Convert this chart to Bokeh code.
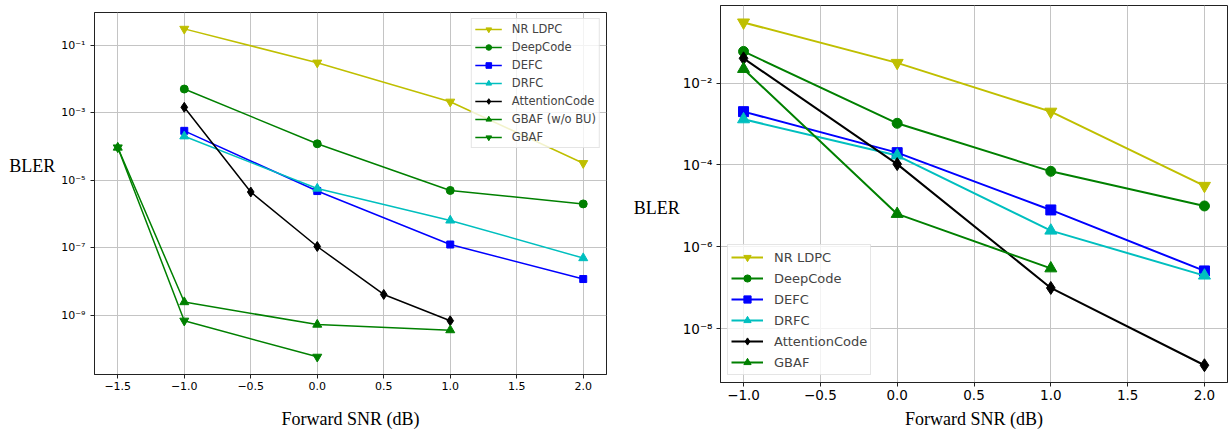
from bokeh.plotting import figure
from bokeh.models import Range1d, FixedTicker
from bokeh.embed import file_html
from bokeh.resources import INLINE

# ---------------- data: left panel ----------------
x_l = [-1.0, 0.0, 1.0, 2.0]
ldpc_l = [3.0e-1, 3.0e-2, 2.1e-3, 3.2e-5]
deepcode_l = [5.0e-3, 1.2e-4, 5.0e-6, 2.0e-6]
defc_l = [2.9e-4, 4.8e-6, 1.26e-7, 1.2e-8]
drfc_l = [2.0e-4, 5.7e-6, 6.5e-7, 5.0e-8]
attn_x_l = [-1.0, -0.5, 0.0, 0.5, 1.0]
attn_l = [1.44e-3, 4.5e-6, 1.1e-7, 4.2e-9, 7.0e-10]
gbaf_wobu_x = [-1.5, -1.0, 0.0, 1.0]
gbaf_wobu = [9.3e-5, 2.5e-9, 5.4e-10, 3.7e-10]
gbaf_x_l = [-1.5, -1.0, 0.0]
gbaf_l = [9.3e-5, 7.0e-10, 6.0e-11]

# ---------------- data: right panel ----------------
x_r = [-1.0, 0.0, 1.0, 2.0]
ldpc_r = [3.0e-1, 3.1e-2, 2.0e-3, 3.1e-5]
deepcode_r = [5.9e-2, 1.04e-3, 7.0e-5, 1.0e-5]
defc_r = [2.0e-3, 2.0e-4, 8.0e-6, 2.6e-7]
drfc_r = [1.3e-3, 1.7e-4, 2.5e-6, 2.0e-7]
attn_r = [4.0e-2, 1.05e-4, 1.0e-7, 1.3e-9]
gbaf_x_r = [-1.0, 0.0, 1.0]
gbaf_r = [2.2e-2, 6.4e-6, 3.0e-7]

# tick labels
xticks_l = [-1.5, -1.0, -0.5, 0.0, 0.5, 1.0, 1.5, 2.0]
xticks_r = [-1.0, -0.5, 0.0, 0.5, 1.0, 1.5, 2.0]
xtick_labels = {-1.5: "\u22121.5", -1.0: "\u22121.0", -0.5: "\u22120.5", 0.0: "0.0",
                0.5: "0.5", 1.0: "1.0", 1.5: "1.5", 2.0: "2.0"}
yexp_l = [-1, -3, -5, -7, -9]
yexp_r = [-2, -4, -6, -8]
SUP = {"-": "\u207b", "0": "\u2070", "1": "\u00b9", "2": "\u00b2", "3": "\u00b3", "4": "\u2074",
       "5": "\u2075", "6": "\u2076", "7": "\u2077", "8": "\u2078", "9": "\u2079"}


def sup_label(e):
    return "10" + "".join(SUP[c] for c in str(e))


Y, G, B, C, K = "#bfbf00", "#008000", "#0000ff", "#00bfbf", "#000000"


def style(p, xticks, yexps, tick_font, x_std, x_lab_std, y_std, y_lab_std, y_label, y_line_height):
    p.xaxis.ticker = FixedTicker(ticks=xticks)
    p.xaxis.major_label_overrides = {t: xtick_labels[t] for t in xticks}
    yt = [10.0 ** e for e in yexps]
    p.yaxis.ticker = FixedTicker(ticks=yt)
    p.yaxis.major_label_overrides = {10.0 ** e: sup_label(e) for e in yexps}
    for ax in (p.xaxis, p.yaxis):
        ax.major_label_text_font = "DejaVu Sans"
        ax.major_label_text_font_size = tick_font
        ax.major_label_text_color = "black"
        ax.major_tick_in = 0
        ax.major_tick_out = 4
        ax.minor_tick_line_color = None
        ax.axis_line_color = "#222222"
        ax.major_tick_line_color = "#222222"
        ax.axis_label_text_font = "Liberation Serif"
        ax.axis_label_text_font_style = "normal"
        ax.axis_label_text_font_size = "18px"
        ax.axis_label_text_color = "black"
    p.xaxis.major_label_standoff = x_std
    p.xaxis.axis_label = "Forward SNR (dB)"
    p.xaxis.axis_label_standoff = x_lab_std
    p.yaxis.major_label_standoff = y_std
    # the empty line only shifts "BLER" off the frame's vertical centre, as in the original
    p.yaxis.axis_label = y_label
    p.yaxis.axis_label_orientation = "horizontal"
    p.yaxis.axis_label_standoff = y_lab_std
    p.yaxis.axis_label_text_line_height = y_line_height
    p.grid.grid_line_color = "#c4c4c4"
    p.grid.grid_line_width = 1
    p.outline_line_color = "#222222"
    p.outline_line_width = 1
    p.background_fill_color = "white"
    p.border_fill_color = "white"


def series(p, x, y, color, marker, label, lw, ms):
    p.line(x, y, line_color=color, line_width=lw, legend_label=label)
    p.scatter(x, y, marker=marker, size=ms, fill_color=color, line_color=color, legend_label=label)


def style_legend(lg, loc, font, gw, gh, spacing, pad, margin, standoff):
    lg.location = loc
    lg.label_text_font = "DejaVu Sans"
    lg.label_text_font_size = font
    lg.glyph_width = gw
    lg.glyph_height = gh
    lg.label_height = gh
    lg.spacing = spacing
    lg.padding = pad
    lg.margin = margin
    lg.label_standoff = standoff
    lg.border_line_color = "#cccccc"
    lg.background_fill_alpha = 0.8


# ---------------- left figure ----------------
p1 = figure(width=620, height=431, output_backend="svg", toolbar_location=None,
            y_axis_type="log",
            x_range=Range1d(-1.675, 2.175),
            y_range=Range1d(10 ** -10.744, 10 ** -0.038),
            min_border_left=94, min_border_right=14, min_border_top=12, min_border_bottom=55)
lw1, ms1 = 1.5, 8
series(p1, x_l, ldpc_l, Y, "inverted_triangle", "NR LDPC", lw1, ms1 + 1)
series(p1, x_l, deepcode_l, G, "circle", "DeepCode", lw1, ms1)
series(p1, x_l, defc_l, B, "square", "DEFC", lw1, ms1 - 1)
series(p1, x_l, drfc_l, C, "triangle", "DRFC", lw1, ms1 + 1)
series(p1, attn_x_l, attn_l, K, "diamond", "AttentionCode", lw1, ms1 + 2)
series(p1, gbaf_wobu_x, gbaf_wobu, G, "triangle", "GBAF (w/o BU)", lw1, ms1 + 1)
series(p1, gbaf_x_l, gbaf_l, G, "inverted_triangle", "GBAF", lw1, ms1 + 1)
style(p1, xticks_l, yexp_l, "11px", 3, 16, 5, 3, "BLER\n", 2.75)
style_legend(p1.legend[0], "top_right", "11.5px", 27, 14, 4, 3, 6, 10)

# ---------------- right figure ----------------
p2 = figure(width=608, height=431, output_backend="svg", toolbar_location=None,
            y_axis_type="log",
            x_range=Range1d(-1.15, 2.15),
            y_range=Range1d(10 ** -9.307, 10 ** -0.109),
            min_border_left=100, min_border_right=1, min_border_top=5, min_border_bottom=48)
lw2, ms2 = 2, 10
series(p2, x_r, ldpc_r, Y, "inverted_triangle", "NR LDPC", lw2, ms2 + 2)
series(p2, x_r, deepcode_r, G, "circle", "DeepCode", lw2, ms2)
series(p2, x_r, defc_r, B, "square", "DEFC", lw2, ms2)
series(p2, x_r, drfc_r, C, "triangle", "DRFC", lw2, ms2 + 2)
series(p2, x_r, attn_r, K, "diamond", "AttentionCode", lw2, ms2 + 3)
series(p2, gbaf_x_r, gbaf_r, G, "triangle", "GBAF", lw2, ms2 + 2)
style(p2, xticks_r, yexp_r, "13.5px", 3, 6, 4, 0, "\nBLER", 1.4)
style_legend(p2.legend[0], "bottom_left", "13px", 32, 18, 3, 3, 7, 11)

# two independent roots side by side (no frame alignment between them)
template = """{% block postamble %}<style>
body { display: flex !important; flex-direction: row; align-items: flex-start; }
</style>{% endblock %}"""
open("out.html", "w").write(file_html([p1, p2], INLINE, template=template))
